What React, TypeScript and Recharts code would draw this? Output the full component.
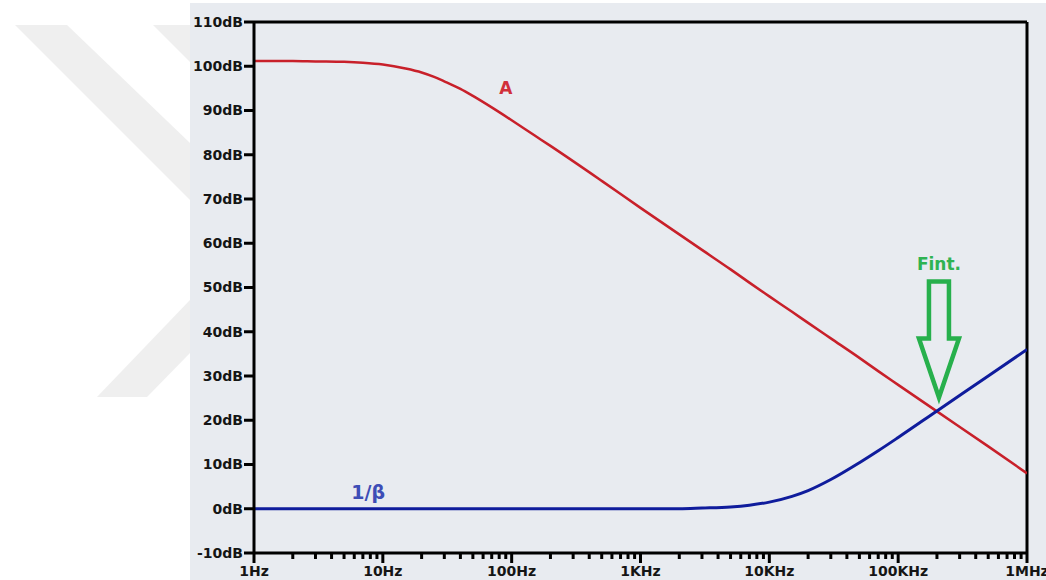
import { Line, LineChart, ReferenceDot, ReferenceLine, XAxis, YAxis } from "recharts";

// Bode plot: open-loop gain A against the noise gain 1/β
const freqHz = [
  1, 2, 3, 5, 7, 10, 15, 20, 25, 30, 40, 50, 70, 100, 150, 200, 500, 1e3, 2e3, 3e3, 5e3, 7e3,
  1e4, 1.5e4, 2e4, 3e4, 5e4, 7e4, 1e5, 2e5, 5e5, 1e6,
];
const openLoopGainDb = [
  101.2, 101.2, 101.1, 101.0, 100.8, 100.4, 99.5, 98.6, 97.6, 96.6, 94.9, 93.3, 90.7, 87.8, 84.4, 82.0,
  74.1, 68.0, 62.0, 58.5, 54.1, 51.1, 48.0, 44.5, 42.0, 38.5, 34.1, 31.1, 28.0, 22.0, 14.1, 8.0,
];
const noiseGainDb = [
  0, 0, 0, 0, 0, 0, 0, 0, 0, 0, 0, 0, 0, 0, 0, 0,
  0, 0, 0, 0.15, 0.4, 0.8, 1.5, 2.8, 4.1, 6.6, 10.4, 13.1, 16.1, 22.1, 30.0, 36.0,
];

const decadeTicks = [1, 10, 100, 1e3, 1e4, 1e5, 1e6];
const decadeLabels = ["1Hz", "10Hz", "100Hz", "1KHz", "10KHz", "100KHz", "1MHz"];
const dbTicks = [-10, 0, 10, 20, 30, 40, 50, 60, 70, 80, 90, 100, 110];

// crossover point and curve label anchors
const FINT_HZ = 200000;
const FINT_DB = 22;
const A_LABEL = { f: 90, db: 95 };
const BETA_LABEL = { f: 7.7, db: 3.8 };

const rows = freqHz.map((f, i) => ({ f, a: openLoopGainDb[i], nb: noiseGainDb[i] }));

const minorTicks = decadeTicks.slice(0, -1).flatMap((d) => [2, 3, 4, 5, 6, 7, 8, 9].map((m) => d * m));
const allTicks = [...decadeTicks, ...minorTicks].sort((p, q) => p - q);

const FONT = "'DejaVu Sans', Verdana, sans-serif";

const FreqTick = (props: any) => {
  const { x, y, payload } = props;
  const idx = decadeTicks.indexOf(payload.value);
  const major = idx >= 0;
  return (
    <g>
      <line x1={x} x2={x} y1={y} y2={y + (major ? 10 : 6)} stroke="#000" strokeWidth={3} />
      {major && (
        <text x={x} y={y + 23} textAnchor="middle" fontFamily={FONT} fontWeight="bold" fontSize={14} fill="#151515">
          {decadeLabels[idx]}
        </text>
      )}
    </g>
  );
};

const FintArrow = (props: any) => {
  const { cx, cy } = props;
  const tx = cx + 2;
  const ty = cy - 14;
  const pts = [
    [tx - 10, ty - 116],
    [tx + 10, ty - 116],
    [tx + 10, ty - 59],
    [tx + 20, ty - 59],
    [tx, ty],
    [tx - 20, ty - 59],
    [tx - 10, ty - 59],
  ]
    .map((p) => p.join(","))
    .join(" ");
  return (
    <g>
      <polygon points={pts} fill="none" stroke="#27b04c" strokeWidth={4.5} strokeLinejoin="miter" />
      <text x={tx} y={ty - 127} textAnchor="middle" fontFamily={FONT} fontWeight="bold" fontSize={17} fill="#2fb352">
        Fint.
      </text>
    </g>
  );
};

const CurveLabel = (text: string, color: string, size: number) => (props: any) => (
  <text
    x={props.cx}
    y={props.cy}
    dy="0.36em"
    textAnchor="middle"
    fontFamily={FONT}
    fontWeight="bold"
    fontSize={size}
    fill={color}
  >
    {text}
  </text>
);

export default function App() {
  return (
    <div style={{ position: "absolute", left: 0, top: 0, width: 1046, height: 580, background: "#fff", overflow: "hidden" }}>
      <svg width={1046} height={580} style={{ position: "absolute", left: 0, top: 0 }}>
        <g fill="#efefef">
          <polygon points="15,25 67,25 190,143 190,200" />
          <polygon points="153,25 190,25 190,62" />
          <polygon points="97,397 147,397 190,353 190,300" />
        </g>
      </svg>
      <div style={{ position: "absolute", left: 190, top: 3, right: 0, bottom: 0, background: "#e8ebf0" }} />
      <div style={{ position: "absolute", left: 0, top: 0 }}>
        <LineChart width={1046} height={580} data={rows} margin={{ top: 22, right: 19, bottom: 0, left: 0 }}>
          <XAxis
            dataKey="f"
            type="number"
            scale="log"
            domain={[1, 1e6]}
            allowDataOverflow
            ticks={allTicks}
            interval={0}
            height={27}
            tickSize={0}
            tickMargin={0}
            tickLine={false}
            tick={<FreqTick />}
            axisLine={{ stroke: "#000", strokeWidth: 3 }}
          />
          <YAxis
            type="number"
            domain={[-10, 110]}
            ticks={dbTicks}
            interval={0}
            width={254}
            tickSize={10}
            tickMargin={1}
            tickLine={{ stroke: "#000", strokeWidth: 3 }}
            axisLine={{ stroke: "#000", strokeWidth: 3 }}
            tickFormatter={(v: number) => `${v}dB`}
            tick={{ fontFamily: FONT, fontWeight: "bold", fontSize: 14, fill: "#151515" }}
          />
          <ReferenceLine y={110} stroke="#000" strokeWidth={3} />
          <ReferenceLine x={1e6} stroke="#000" strokeWidth={3} />
          <Line dataKey="a" type="monotone" stroke="#c8202a" strokeWidth={2.5} dot={false} isAnimationActive={false} />
          <Line dataKey="nb" type="monotone" stroke="#0f1c9c" strokeWidth={3} dot={false} isAnimationActive={false} />
          <ReferenceDot x={A_LABEL.f} y={A_LABEL.db} shape={CurveLabel("A", "#d1303b", 17)} />
          <ReferenceDot x={BETA_LABEL.f} y={BETA_LABEL.db} shape={CurveLabel("1/β", "#3d4db6", 19)} />
          <ReferenceDot x={FINT_HZ} y={FINT_DB} shape={FintArrow} />
        </LineChart>
      </div>
    </div>
  );
}
